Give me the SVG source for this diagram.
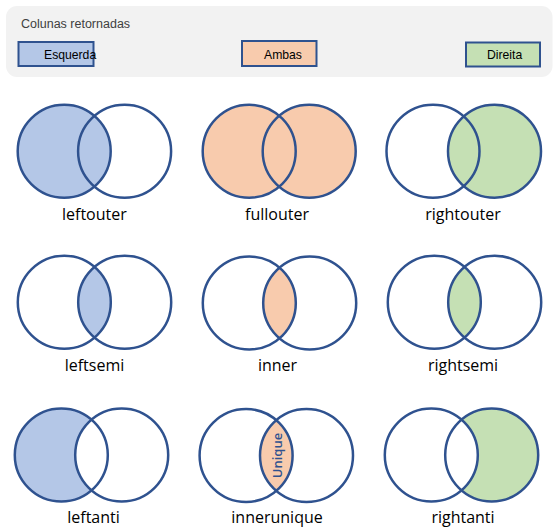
<svg xmlns="http://www.w3.org/2000/svg" width="559" height="532" viewBox="0 0 559 532">
<style>
.c{fill:none;stroke:#2f528f;stroke-width:2.5}
.b{fill:#b4c7e7}.o{fill:#f8cbad}.g{fill:#c5e0b4}
.lbl{font-family:"Open Sans","Noto Sans",sans-serif;font-size:16px;fill:#000;text-anchor:middle}
.leg{font-family:"Liberation Sans",Arial,sans-serif;font-size:12.2px;fill:#000}
.lb{stroke:#2f528f;stroke-width:2}
</style>
<g id="legend">
<rect x="6" y="6" width="546.5" height="71" rx="11" fill="#f2f2f2"/>
<text x="21" y="28" font-family="Liberation Sans, Arial, sans-serif" font-size="12.5" fill="#404040">Colunas retornadas</text>
<rect class="b lb" x="18.5" y="42" width="75" height="24"/>
<text class="leg" x="44" y="59">Esquerda</text>
<rect class="o lb" x="242" y="41" width="74.5" height="25"/>
<text class="leg" x="264" y="58.5">Ambas</text>
<rect class="g lb" x="466" y="42.5" width="74" height="24"/>
<text class="leg" x="487" y="59.3">Direita</text>
</g>
<g id="leftouter">
<circle class="b" cx="64.2" cy="151.2" r="46.5"/>
<circle class="c" cx="64.2" cy="151.2" r="46.5"/>
<circle class="c" cx="124.6" cy="151.2" r="46.5"/>
<text class="lbl" x="94.4" y="219.5">leftouter</text>
</g>
<g id="fullouter">
<circle class="o" cx="249.2" cy="151.3" r="46.5"/>
<circle class="o" cx="309.2" cy="151.3" r="46.5"/>
<circle class="c" cx="249.2" cy="151.3" r="46.5"/>
<circle class="c" cx="309.2" cy="151.3" r="46.5"/>
<text class="lbl" x="277" y="219.5">fullouter</text>
</g>
<g id="rightouter">
<circle class="g" cx="494.5" cy="151.2" r="46.5"/>
<circle class="c" cx="433" cy="151.2" r="46.5"/>
<circle class="c" cx="494.5" cy="151.2" r="46.5"/>
<text class="lbl" x="463" y="219.5">rightouter</text>
</g>
<g id="leftsemi">
<path class="b" d="M94.5,266.9 A46.5,46.5 0 0 1 94.5,337.5 A46.5,46.5 0 0 1 94.5,266.9Z"/>
<circle class="c" cx="64.3" cy="302.2" r="46.5"/>
<circle class="c" cx="124.7" cy="302.2" r="46.5"/>
<text class="lbl" x="94.5" y="371">leftsemi</text>
</g>
<g id="inner">
<path class="o" d="M279.5,267.7 A46.5,46.5 0 0 1 279.5,338.3 A46.5,46.5 0 0 1 279.5,267.7Z"/>
<circle class="c" cx="249.3" cy="303" r="46.5"/>
<circle class="c" cx="309.7" cy="303" r="46.5"/>
<text class="lbl" x="277.5" y="371">inner</text>
</g>
<g id="rightsemi">
<path class="g" d="M464.5,266.9 A46.5,46.5 0 0 1 464.5,337.5 A46.5,46.5 0 0 1 464.5,266.9Z"/>
<circle class="c" cx="434.3" cy="302.2" r="46.5"/>
<circle class="c" cx="494.7" cy="302.2" r="46.5"/>
<text class="lbl" x="463" y="371">rightsemi</text>
</g>
<g id="leftanti">
<path class="b" d="M91.5,419.7 A46.5,46.5 0 1 0 91.5,490.3 A46.5,46.5 0 0 1 91.5,419.7Z"/>
<circle class="c" cx="61.3" cy="455" r="46.5"/>
<circle class="c" cx="121.7" cy="455" r="46.5"/>
<text class="lbl" x="93.5" y="523">leftanti</text>
</g>
<g id="innerunique">
<path class="o" d="M276.3,420.2 A46.5,46.5 0 0 1 276.3,490.8 A46.5,46.5 0 0 1 276.3,420.2Z"/>
<circle class="c" cx="246.1" cy="455.5" r="46.5"/>
<circle class="c" cx="306.5" cy="455.5" r="46.5"/>
<text x="0" y="0" transform="translate(281.8,455.5) rotate(-90)" font-family="Open Sans, Noto Sans, sans-serif" font-size="13" font-weight="600" fill="#2f528f" text-anchor="middle">Unique</text>
<text class="lbl" x="277" y="523">innerunique</text>
</g>
<g id="rightanti">
<path class="g" d="M461.5,419.7 A46.5,46.5 0 1 1 461.5,490.3 A46.5,46.5 0 0 0 461.5,419.7Z"/>
<circle class="c" cx="431.3" cy="455" r="46.5"/>
<circle class="c" cx="491.7" cy="455" r="46.5"/>
<text class="lbl" x="463" y="523">rightanti</text>
</g>
</svg>
